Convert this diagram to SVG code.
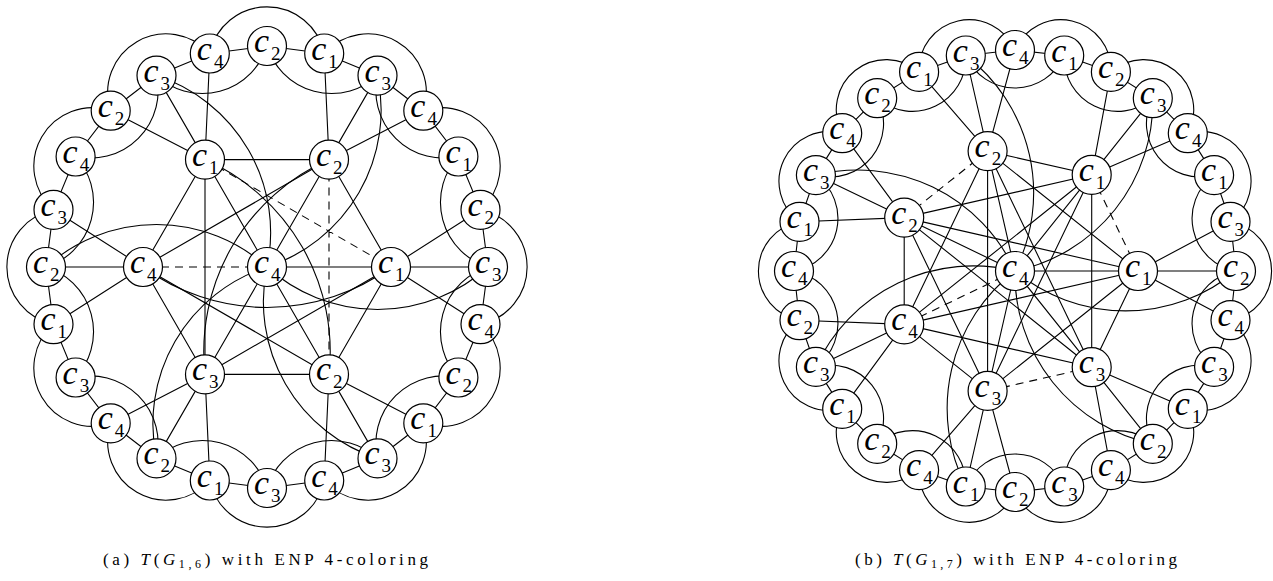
<svg xmlns="http://www.w3.org/2000/svg" width="1273" height="581" viewBox="0 0 1273 581">
<style>
.e{fill:none;stroke:#000;stroke-width:1.1}
.d{fill:none;stroke:#000;stroke-width:1.1;stroke-dasharray:8 6}
.n circle{fill:#fff;stroke:#000;stroke-width:1.2}
.n text{font-family:"Liberation Serif",serif;font-style:italic;font-weight:normal;font-size:34px;fill:#000}
.n tspan{font-style:normal;font-size:19px}
.cap{font-family:"Liberation Serif",serif;font-size:17px;fill:#000}
</style>
<rect width="1273" height="581" fill="#fff"/>
<g id="connectors-a">
<path class="e" d="M267,46 L324.2,53.5 L377.5,75.6 L423.3,110.7 L458.4,156.5 L480.5,209.8 L488,267 L480.5,324.2 L458.4,377.5 L423.3,423.3 L377.5,458.4 L324.2,480.5 L267,488 L209.8,480.5 L156.5,458.4 L110.7,423.3 L75.6,377.5 L53.5,324.2 L46,267 L53.5,209.8 L75.6,156.5 L110.7,110.7 L156.5,75.6 L209.8,53.5 Z"/>
<path class="e" d="M267,46 A67.7,67.7 0 0 0 377.5,75.6 M377.5,75.6 A67.7,67.7 0 0 0 458.4,156.5 M458.4,156.5 A67.7,67.7 0 0 0 488,267 M488,267 A67.7,67.7 0 0 0 458.4,377.5 M458.4,377.5 A67.7,67.7 0 0 0 377.5,458.4 M377.5,458.4 A67.7,67.7 0 0 0 267,488 M267,488 A67.7,67.7 0 0 0 156.5,458.4 M156.5,458.4 A67.7,67.7 0 0 0 75.6,377.5 M75.6,377.5 A67.7,67.7 0 0 0 46,267 M46,267 A67.7,67.7 0 0 0 75.6,156.5 M75.6,156.5 A67.7,67.7 0 0 0 156.5,75.6 M156.5,75.6 A67.7,67.7 0 0 0 267,46"/>
<path class="e" d="M324.2,53.5 A58.4,58.4 0 0 1 423.3,110.7 M423.3,110.7 A58.4,58.4 0 0 1 480.5,209.8 M480.5,209.8 A58.4,58.4 0 0 1 480.5,324.2 M480.5,324.2 A58.4,58.4 0 0 1 423.3,423.3 M423.3,423.3 A58.4,58.4 0 0 1 324.2,480.5 M324.2,480.5 A58.4,58.4 0 0 1 209.8,480.5 M209.8,480.5 A58.4,58.4 0 0 1 110.7,423.3 M110.7,423.3 A58.4,58.4 0 0 1 53.5,324.2 M53.5,324.2 A58.4,58.4 0 0 1 53.5,209.8 M53.5,209.8 A58.4,58.4 0 0 1 110.7,110.7 M110.7,110.7 A58.4,58.4 0 0 1 209.8,53.5 M209.8,53.5 A58.4,58.4 0 0 1 324.2,53.5"/>
<path class="e" d="M205,159.6 L110.7,110.7 M205,159.6 L156.5,75.6 M205,159.6 L209.8,53.5 M329,159.6 L324.2,53.5 M329,159.6 L377.5,75.6 M329,159.6 L423.3,110.7 M391,267 L480.5,209.8 M391,267 L488,267 M391,267 L480.5,324.2 M329,374.4 L423.3,423.3 M329,374.4 L377.5,458.4 M329,374.4 L324.2,480.5 M205,374.4 L209.8,480.5 M205,374.4 L156.5,458.4 M205,374.4 L110.7,423.3 M143,267 L53.5,324.2 M143,267 L46,267 M143,267 L53.5,209.8"/>
<path class="e" d="M267,267 L205,159.6 M267,267 L329,159.6 M267,267 L391,267 M267,267 L329,374.4 M267,267 L205,374.4"/>
<path class="d" d="M267,267 L143,267 M205,159.6 L391,267 M329,159.6 L329,374.4"/>
<path class="e" d="M205,159.6 L329,159.6 M329,159.6 L391,267 M391,267 L329,374.4 M329,374.4 L205,374.4 M205,374.4 L143,267 M143,267 L205,159.6 M391,267 L205,374.4 M329,374.4 L143,267 M205,374.4 L205,159.6 M143,267 L329,159.6"/>
<path class="e" d="M205,159.6 A210,210 0 0 1 329,374.4 M391,267 A210,210 0 0 1 143,267 M205,374.4 A210,210 0 0 1 329,159.6"/>
<path class="e" d="M267,267 A165,165 0 0 0 377.5,75.6 M267,267 A165,165 0 0 0 488,267 M267,267 A165,165 0 0 0 377.5,458.4 M267,267 A165,165 0 0 0 156.5,458.4 M267,267 A165,165 0 0 0 46,267 M267,267 A165,165 0 0 0 156.5,75.6"/>
</g>
<g id="connectors-b">
<path class="e" d="M1015,50 L1064.2,55.5 L1110.9,71.9 L1152.8,98.2 L1187.8,133.2 L1214.1,175.1 L1230.5,221.8 L1236,271 L1230.5,320.2 L1214.1,366.9 L1187.8,408.8 L1152.8,443.8 L1110.9,470.1 L1064.2,486.5 L1015,492 L965.8,486.5 L919.1,470.1 L877.2,443.8 L842.2,408.8 L815.9,366.9 L799.5,320.2 L794,271 L799.5,221.8 L815.9,175.1 L842.2,133.2 L877.2,98.2 L919.1,71.9 L965.8,55.5 Z"/>
<path class="e" d="M1015,50 A50,50 0 0 1 1110.9,71.9 M1110.9,71.9 A50,50 0 0 1 1187.8,133.2 M1187.8,133.2 A50,50 0 0 1 1230.5,221.8 M1230.5,221.8 A50,50 0 0 1 1230.5,320.2 M1230.5,320.2 A50,50 0 0 1 1187.8,408.8 M1187.8,408.8 A50,50 0 0 1 1110.9,470.1 M1110.9,470.1 A50,50 0 0 1 1015,492 M1015,492 A50,50 0 0 1 919.1,470.1 M919.1,470.1 A50,50 0 0 1 842.2,408.8 M842.2,408.8 A50,50 0 0 1 799.5,320.2 M799.5,320.2 A50,50 0 0 1 799.5,221.8 M799.5,221.8 A50,50 0 0 1 842.2,133.2 M842.2,133.2 A50,50 0 0 1 919.1,71.9 M919.1,71.9 A50,50 0 0 1 1015,50"/>
<path class="e" d="M1064.2,55.5 A53.5,53.5 0 0 0 1152.8,98.2 M1152.8,98.2 A53.5,53.5 0 0 0 1214.1,175.1 M1214.1,175.1 A53.5,53.5 0 0 0 1236,271 M1236,271 A53.5,53.5 0 0 0 1214.1,366.9 M1214.1,366.9 A53.5,53.5 0 0 0 1152.8,443.8 M1152.8,443.8 A53.5,53.5 0 0 0 1064.2,486.5 M1064.2,486.5 A53.5,53.5 0 0 0 965.8,486.5 M965.8,486.5 A53.5,53.5 0 0 0 877.2,443.8 M877.2,443.8 A53.5,53.5 0 0 0 815.9,366.9 M815.9,366.9 A53.5,53.5 0 0 0 794,271 M794,271 A53.5,53.5 0 0 0 815.9,175.1 M815.9,175.1 A53.5,53.5 0 0 0 877.2,98.2 M877.2,98.2 A53.5,53.5 0 0 0 965.8,55.5 M965.8,55.5 A53.5,53.5 0 0 0 1064.2,55.5"/>
<path class="e" d="M1091.7,174.8 L1110.9,71.9 M1091.7,174.8 L1152.8,98.2 M1091.7,174.8 L1187.8,133.2 M1138,271 L1230.5,221.8 M1138,271 L1236,271 M1138,271 L1230.5,320.2 M1091.7,367.2 L1187.8,408.8 M1091.7,367.2 L1152.8,443.8 M1091.7,367.2 L1110.9,470.1 M987.6,390.9 L1015,492 M987.6,390.9 L965.8,486.5 M987.6,390.9 L919.1,470.1 M904.2,324.4 L842.2,408.8 M904.2,324.4 L815.9,366.9 M904.2,324.4 L799.5,320.2 M904.2,217.6 L799.5,221.8 M904.2,217.6 L815.9,175.1 M904.2,217.6 L842.2,133.2 M987.6,151.1 L919.1,71.9 M987.6,151.1 L965.8,55.5 M987.6,151.1 L1015,50"/>
<path class="e" d="M1015,271 L1091.7,174.8 M1015,271 L1138,271 M1015,271 L1091.7,367.2 M1015,271 L987.6,390.9 M1015,271 L904.2,217.6 M1015,271 L987.6,151.1"/>
<path class="d" d="M1015,271 L904.2,324.4 M1091.7,174.8 L1138,271 M1091.7,367.2 L987.6,390.9 M904.2,217.6 L987.6,151.1"/>
<path class="e" d="M1091.7,174.8 L1091.7,367.2 M1091.7,174.8 L987.6,390.9 M1091.7,174.8 L904.2,324.4 M1091.7,174.8 L904.2,217.6 M1091.7,174.8 L987.6,151.1 M1138,271 L1091.7,367.2 M1138,271 L987.6,390.9 M1138,271 L904.2,324.4 M1138,271 L904.2,217.6 M1138,271 L987.6,151.1 M1091.7,367.2 L904.2,324.4 M1091.7,367.2 L904.2,217.6 M1091.7,367.2 L987.6,151.1 M987.6,390.9 L904.2,324.4 M987.6,390.9 L904.2,217.6 M987.6,390.9 L987.6,151.1 M904.2,324.4 L904.2,217.6 M904.2,324.4 L987.6,151.1"/>
<path class="e" d="M1015,271 A173,173 0 0 0 1152.8,98.2 M1015,271 A173,173 0 0 0 1236,271 M1015,271 A173,173 0 0 0 1152.8,443.8 M1015,271 A173,173 0 0 0 965.8,486.5 M1015,271 A173,173 0 0 0 815.9,366.9 M1015,271 A173,173 0 0 0 815.9,175.1 M1015,271 A173,173 0 0 0 965.8,55.5"/>
</g>
<g id="nodes-a" class="n">
<g id="a-o0" transform="translate(267,46)"><circle r="19.5"/><text x="-13" y="6">c<tspan dx="2" dy="8">2</tspan></text></g>
<g id="a-o1" transform="translate(324.2,53.5)"><circle r="19.5"/><text x="-13" y="6">c<tspan dx="2" dy="8">1</tspan></text></g>
<g id="a-o2" transform="translate(377.5,75.6)"><circle r="19.5"/><text x="-13" y="6">c<tspan dx="2" dy="8">3</tspan></text></g>
<g id="a-o3" transform="translate(423.3,110.7)"><circle r="19.5"/><text x="-13" y="6">c<tspan dx="2" dy="8">4</tspan></text></g>
<g id="a-o4" transform="translate(458.4,156.5)"><circle r="19.5"/><text x="-13" y="6">c<tspan dx="2" dy="8">1</tspan></text></g>
<g id="a-o5" transform="translate(480.5,209.8)"><circle r="19.5"/><text x="-13" y="6">c<tspan dx="2" dy="8">2</tspan></text></g>
<g id="a-o6" transform="translate(488,267)"><circle r="19.5"/><text x="-13" y="6">c<tspan dx="2" dy="8">3</tspan></text></g>
<g id="a-o7" transform="translate(480.5,324.2)"><circle r="19.5"/><text x="-13" y="6">c<tspan dx="2" dy="8">4</tspan></text></g>
<g id="a-o8" transform="translate(458.4,377.5)"><circle r="19.5"/><text x="-13" y="6">c<tspan dx="2" dy="8">2</tspan></text></g>
<g id="a-o9" transform="translate(423.3,423.3)"><circle r="19.5"/><text x="-13" y="6">c<tspan dx="2" dy="8">1</tspan></text></g>
<g id="a-o10" transform="translate(377.5,458.4)"><circle r="19.5"/><text x="-13" y="6">c<tspan dx="2" dy="8">3</tspan></text></g>
<g id="a-o11" transform="translate(324.2,480.5)"><circle r="19.5"/><text x="-13" y="6">c<tspan dx="2" dy="8">4</tspan></text></g>
<g id="a-o12" transform="translate(267,488)"><circle r="19.5"/><text x="-13" y="6">c<tspan dx="2" dy="8">3</tspan></text></g>
<g id="a-o13" transform="translate(209.8,480.5)"><circle r="19.5"/><text x="-13" y="6">c<tspan dx="2" dy="8">1</tspan></text></g>
<g id="a-o14" transform="translate(156.5,458.4)"><circle r="19.5"/><text x="-13" y="6">c<tspan dx="2" dy="8">2</tspan></text></g>
<g id="a-o15" transform="translate(110.7,423.3)"><circle r="19.5"/><text x="-13" y="6">c<tspan dx="2" dy="8">4</tspan></text></g>
<g id="a-o16" transform="translate(75.6,377.5)"><circle r="19.5"/><text x="-13" y="6">c<tspan dx="2" dy="8">3</tspan></text></g>
<g id="a-o17" transform="translate(53.5,324.2)"><circle r="19.5"/><text x="-13" y="6">c<tspan dx="2" dy="8">1</tspan></text></g>
<g id="a-o18" transform="translate(46,267)"><circle r="19.5"/><text x="-13" y="6">c<tspan dx="2" dy="8">2</tspan></text></g>
<g id="a-o19" transform="translate(53.5,209.8)"><circle r="19.5"/><text x="-13" y="6">c<tspan dx="2" dy="8">3</tspan></text></g>
<g id="a-o20" transform="translate(75.6,156.5)"><circle r="19.5"/><text x="-13" y="6">c<tspan dx="2" dy="8">4</tspan></text></g>
<g id="a-o21" transform="translate(110.7,110.7)"><circle r="19.5"/><text x="-13" y="6">c<tspan dx="2" dy="8">2</tspan></text></g>
<g id="a-o22" transform="translate(156.5,75.6)"><circle r="19.5"/><text x="-13" y="6">c<tspan dx="2" dy="8">3</tspan></text></g>
<g id="a-o23" transform="translate(209.8,53.5)"><circle r="19.5"/><text x="-13" y="6">c<tspan dx="2" dy="8">4</tspan></text></g>
<g id="a-h1" transform="translate(205,159.6)"><circle r="19.5"/><text x="-13" y="6">c<tspan dx="2" dy="8">1</tspan></text></g>
<g id="a-h2" transform="translate(329,159.6)"><circle r="19.5"/><text x="-13" y="6">c<tspan dx="2" dy="8">2</tspan></text></g>
<g id="a-h3" transform="translate(391,267)"><circle r="19.5"/><text x="-13" y="6">c<tspan dx="2" dy="8">1</tspan></text></g>
<g id="a-h4" transform="translate(329,374.4)"><circle r="19.5"/><text x="-13" y="6">c<tspan dx="2" dy="8">2</tspan></text></g>
<g id="a-h5" transform="translate(205,374.4)"><circle r="19.5"/><text x="-13" y="6">c<tspan dx="2" dy="8">3</tspan></text></g>
<g id="a-h6" transform="translate(143,267)"><circle r="19.5"/><text x="-13" y="6">c<tspan dx="2" dy="8">4</tspan></text></g>
<g id="a-c" transform="translate(267,267)"><circle r="19.5"/><text x="-13" y="6">c<tspan dx="2" dy="8">4</tspan></text></g>
</g>
<g id="nodes-b" class="n">
<g id="b-o0" transform="translate(1015,50)"><circle r="19.5"/><text x="-13" y="6">c<tspan dx="2" dy="8">4</tspan></text></g>
<g id="b-o1" transform="translate(1064.2,55.5)"><circle r="19.5"/><text x="-13" y="6">c<tspan dx="2" dy="8">1</tspan></text></g>
<g id="b-o2" transform="translate(1110.9,71.9)"><circle r="19.5"/><text x="-13" y="6">c<tspan dx="2" dy="8">2</tspan></text></g>
<g id="b-o3" transform="translate(1152.8,98.2)"><circle r="19.5"/><text x="-13" y="6">c<tspan dx="2" dy="8">3</tspan></text></g>
<g id="b-o4" transform="translate(1187.8,133.2)"><circle r="19.5"/><text x="-13" y="6">c<tspan dx="2" dy="8">4</tspan></text></g>
<g id="b-o5" transform="translate(1214.1,175.1)"><circle r="19.5"/><text x="-13" y="6">c<tspan dx="2" dy="8">1</tspan></text></g>
<g id="b-o6" transform="translate(1230.5,221.8)"><circle r="19.5"/><text x="-13" y="6">c<tspan dx="2" dy="8">3</tspan></text></g>
<g id="b-o7" transform="translate(1236,271)"><circle r="19.5"/><text x="-13" y="6">c<tspan dx="2" dy="8">2</tspan></text></g>
<g id="b-o8" transform="translate(1230.5,320.2)"><circle r="19.5"/><text x="-13" y="6">c<tspan dx="2" dy="8">4</tspan></text></g>
<g id="b-o9" transform="translate(1214.1,366.9)"><circle r="19.5"/><text x="-13" y="6">c<tspan dx="2" dy="8">3</tspan></text></g>
<g id="b-o10" transform="translate(1187.8,408.8)"><circle r="19.5"/><text x="-13" y="6">c<tspan dx="2" dy="8">1</tspan></text></g>
<g id="b-o11" transform="translate(1152.8,443.8)"><circle r="19.5"/><text x="-13" y="6">c<tspan dx="2" dy="8">2</tspan></text></g>
<g id="b-o12" transform="translate(1110.9,470.1)"><circle r="19.5"/><text x="-13" y="6">c<tspan dx="2" dy="8">4</tspan></text></g>
<g id="b-o13" transform="translate(1064.2,486.5)"><circle r="19.5"/><text x="-13" y="6">c<tspan dx="2" dy="8">3</tspan></text></g>
<g id="b-o14" transform="translate(1015,492)"><circle r="19.5"/><text x="-13" y="6">c<tspan dx="2" dy="8">2</tspan></text></g>
<g id="b-o15" transform="translate(965.8,486.5)"><circle r="19.5"/><text x="-13" y="6">c<tspan dx="2" dy="8">1</tspan></text></g>
<g id="b-o16" transform="translate(919.1,470.1)"><circle r="19.5"/><text x="-13" y="6">c<tspan dx="2" dy="8">4</tspan></text></g>
<g id="b-o17" transform="translate(877.2,443.8)"><circle r="19.5"/><text x="-13" y="6">c<tspan dx="2" dy="8">2</tspan></text></g>
<g id="b-o18" transform="translate(842.2,408.8)"><circle r="19.5"/><text x="-13" y="6">c<tspan dx="2" dy="8">1</tspan></text></g>
<g id="b-o19" transform="translate(815.9,366.9)"><circle r="19.5"/><text x="-13" y="6">c<tspan dx="2" dy="8">3</tspan></text></g>
<g id="b-o20" transform="translate(799.5,320.2)"><circle r="19.5"/><text x="-13" y="6">c<tspan dx="2" dy="8">2</tspan></text></g>
<g id="b-o21" transform="translate(794,271)"><circle r="19.5"/><text x="-13" y="6">c<tspan dx="2" dy="8">4</tspan></text></g>
<g id="b-o22" transform="translate(799.5,221.8)"><circle r="19.5"/><text x="-13" y="6">c<tspan dx="2" dy="8">1</tspan></text></g>
<g id="b-o23" transform="translate(815.9,175.1)"><circle r="19.5"/><text x="-13" y="6">c<tspan dx="2" dy="8">3</tspan></text></g>
<g id="b-o24" transform="translate(842.2,133.2)"><circle r="19.5"/><text x="-13" y="6">c<tspan dx="2" dy="8">4</tspan></text></g>
<g id="b-o25" transform="translate(877.2,98.2)"><circle r="19.5"/><text x="-13" y="6">c<tspan dx="2" dy="8">2</tspan></text></g>
<g id="b-o26" transform="translate(919.1,71.9)"><circle r="19.5"/><text x="-13" y="6">c<tspan dx="2" dy="8">1</tspan></text></g>
<g id="b-o27" transform="translate(965.8,55.5)"><circle r="19.5"/><text x="-13" y="6">c<tspan dx="2" dy="8">3</tspan></text></g>
<g id="b-h3" transform="translate(1091.7,174.8)"><circle r="19.5"/><text x="-13" y="6">c<tspan dx="2" dy="8">1</tspan></text></g>
<g id="b-h7" transform="translate(1138,271)"><circle r="19.5"/><text x="-13" y="6">c<tspan dx="2" dy="8">1</tspan></text></g>
<g id="b-h11" transform="translate(1091.7,367.2)"><circle r="19.5"/><text x="-13" y="6">c<tspan dx="2" dy="8">3</tspan></text></g>
<g id="b-h15" transform="translate(987.6,390.9)"><circle r="19.5"/><text x="-13" y="6">c<tspan dx="2" dy="8">3</tspan></text></g>
<g id="b-h19" transform="translate(904.2,324.4)"><circle r="19.5"/><text x="-13" y="6">c<tspan dx="2" dy="8">4</tspan></text></g>
<g id="b-h23" transform="translate(904.2,217.6)"><circle r="19.5"/><text x="-13" y="6">c<tspan dx="2" dy="8">2</tspan></text></g>
<g id="b-h27" transform="translate(987.6,151.1)"><circle r="19.5"/><text x="-13" y="6">c<tspan dx="2" dy="8">2</tspan></text></g>
<g id="b-c" transform="translate(1015,271)"><circle r="19.5"/><text x="-13" y="6">c<tspan dx="2" dy="8">4</tspan></text></g>
</g>
<g id="captions" class="cap">
<text x="103" y="565" textLength="325" lengthAdjust="spacing">(a) <tspan font-style="italic">T</tspan>(<tspan font-style="italic">G</tspan><tspan font-size="12" dy="3">1,6</tspan><tspan dy="-3">) with ENP 4-coloring</tspan></text>
<text x="855" y="565" textLength="322" lengthAdjust="spacing">(b) <tspan font-style="italic">T</tspan>(<tspan font-style="italic">G</tspan><tspan font-size="12" dy="3">1,7</tspan><tspan dy="-3">) with ENP 4-coloring</tspan></text>
</g>
</svg>
